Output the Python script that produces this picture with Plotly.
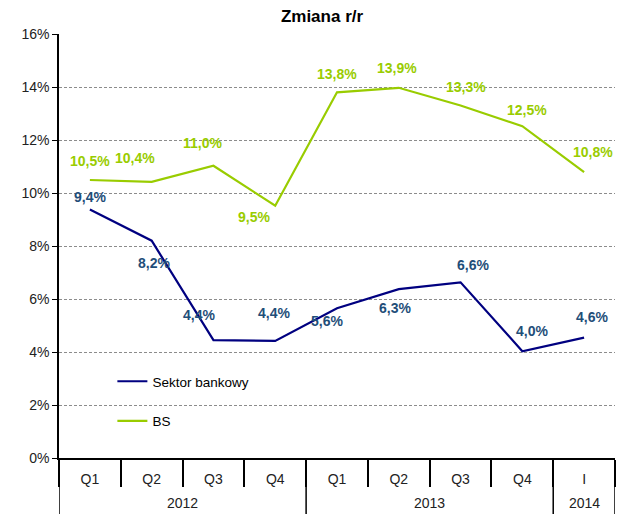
import plotly.graph_objects as go

# Data
years = ['2012', '2012', '2012', '2012', '2013', '2013', '2013', '2013', '2014']
quarters = ['Q1', 'Q2', 'Q3', 'Q4', 'Q1', 'Q2', 'Q3', 'Q4', 'I']
sektor = [9.38, 8.2, 4.45, 4.42, 5.65, 6.37, 6.63, 4.03, 4.54]
sektor_labels = ['9,4%', '8,2%', '4,4%', '4,4%', '5,6%', '6,3%', '6,6%', '4,0%', '4,6%']
bs = [10.49, 10.42, 11.03, 9.52, 13.8, 13.97, 13.3, 12.52, 10.79]
bs_labels = ['10,5%', '10,4%', '11,0%', '9,5%', '13,8%', '13,9%', '13,3%', '12,5%', '10,8%']

COLORS = {'sektor': '#000080', 'sektor_text': '#1F4E79', 'bs': '#99CC00'}
FONT = 'Liberation Sans, Arial, sans-serif'

periods = [f'{y} {q}' for y, q in zip(years, quarters)]

# label offsets (px) relative to the point
sektor_shift = [(0, 12), (2, -22), (-14, 25), (-1, 28), (-10, -13), (-4, -19), (12, 17), (10, 20), (8, 21)]
bs_shift = [(0, 19), (-17, 24), (-11, 23), (-21, -11), (0, 18), (-2, 20), (5, 19), (5, 16), (9, 20)]

fig = go.Figure()

fig.add_trace(go.Scatter(
    x=periods, y=sektor, mode='lines', name='Sektor bankowy',
    line=dict(color=COLORS['sektor'], width=2.2), legendgroup='a'
))
fig.add_trace(go.Scatter(
    x=periods, y=bs, mode='lines', name='BS',
    line=dict(color=COLORS['bs'], width=2.2), legendgroup='b'
))

for i in range(len(periods)):
    dx, dy = sektor_shift[i]
    fig.add_annotation(x=periods[i], y=sektor[i], text=sektor_labels[i], showarrow=False,
                       xshift=dx, yshift=dy,
                       font=dict(family=FONT, size=14, color=COLORS['sektor_text'], weight='bold'))
    dx, dy = bs_shift[i]
    fig.add_annotation(x=periods[i], y=bs[i], text=bs_labels[i], showarrow=False,
                       xshift=dx, yshift=dy,
                       font=dict(family=FONT, size=14, color=COLORS['bs'], weight='bold'))

# year labels and year dividers below the axis
for yr in dict.fromkeys(years):
    idx = [i for i, y in enumerate(years) if y == yr]
    fig.add_annotation(x=sum(idx) / len(idx), xref='x', y=-0.106, yref='paper', yanchor='middle',
                       text=yr, showarrow=False,
                       font=dict(family=FONT, size=14, color='#222'))
bounds = [-0.5] + [i + 0.5 for i in range(len(years)) if i == len(years) - 1 or years[i] != years[i + 1]]
for b in bounds:
    fig.add_shape(type='line', xref='x', yref='paper', x0=b, x1=b, y0=0, y1=-0.14,
                  line=dict(color='black', width=1.5))

# page body has an 8px margin, so the figure is 8px smaller than the window
fig.update_layout(
    title=dict(text='<b>Zmiana r/r</b>', x=0.5, xanchor='center', y=0.984, yanchor='middle',
               font=dict(family=FONT, size=17, color='black')),
    width=628, height=506,
    margin=dict(l=51, r=21, t=26, b=56),
    plot_bgcolor='white', paper_bgcolor='white',
    font=dict(family=FONT, size=14, color='#222'),
    showlegend=True,
    legend=dict(x=0.096, y=0.217, xanchor='left', yanchor='top',
                bgcolor='rgba(0,0,0,0)', tracegroupgap=19,
                font=dict(family=FONT, size=13.5, color='black')),
    xaxis=dict(
        type='category', showgrid=False, showline=True, linecolor='black', linewidth=1.5,
        tickvals=periods, ticktext=quarters, range=[-0.5, len(periods) - 0.5],
        ticks='outside', tickson='boundaries', ticklen=27, tickcolor='black', tickwidth=1.5,
        ticklabelstandoff=7, automargin=False,
        tickfont=dict(family=FONT, size=14, color='#222')
    ),
    yaxis=dict(
        range=[0, 16], dtick=2, ticksuffix='%', showgrid=True,
        gridcolor='#8c8c8c', griddash='3px,2px', gridwidth=1,
        showline=True, linecolor='black', linewidth=1.5, automargin=False,
        ticks='outside', ticklen=5, tickcolor='black', zeroline=False,
        tickfont=dict(family=FONT, size=14, color='#222')
    )
)

fig.write_html('out.html')
